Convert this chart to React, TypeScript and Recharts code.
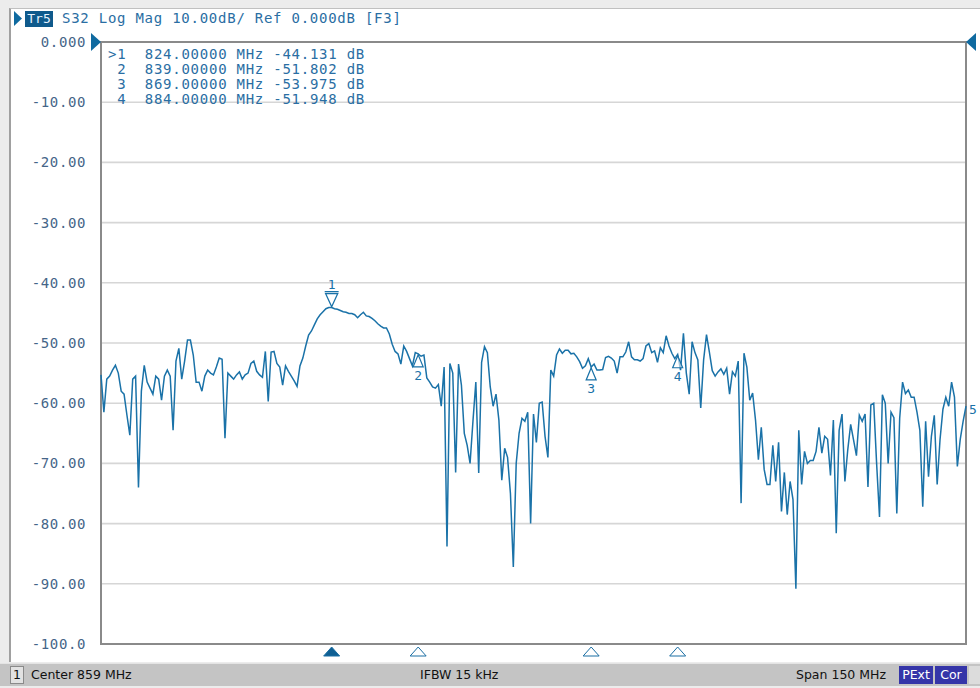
import React from 'react';
import {
  CartesianGrid,
  Line,
  LineChart,
  ReferenceArea,
  ReferenceDot,
  XAxis,
  YAxis,
} from 'recharts';

// sweep: center 859 MHz, span 150 MHz, 301 points
const START_MHZ = 784;
const STOP_MHZ = 934;
const STEP_MHZ = 0.5;

// S32 log mag trace, dB
const s32Db = [
  -55.3, -61.5, -56, -55.5, -54.5, -53.7, -55, -58, -58.5, -62,
  -65.3, -56, -55.5, -74, -58, -53.7, -56.5, -57.5, -58.5, -55.5,
  -56, -59.5, -55.5, -54.5, -55.5, -64.5, -53, -50.9, -56, -53,
  -49.5, -49.5, -52, -56.5, -56.5, -58, -55.5, -54.5, -55, -55.3,
  -54, -52.5, -52.7, -65.8, -55, -55.5, -56, -55.3, -54.8, -56,
  -55.3, -55, -53.4, -53, -54.7, -55.3, -55.7, -51.4, -59.7, -51.5,
  -51.4, -53.4, -54, -57, -53.8, -54.7, -55.5, -56.3, -57.2, -53.8,
  -52.5, -50.5, -48.7, -48, -47, -46, -45.3, -44.8, -44.3, -44.1,
  -44.1, -44.3, -44.4, -44.6, -44.8, -44.9, -45.1, -45.1, -45.3, -45.8,
  -45.3, -44.9, -45.5, -45.6, -45.9, -46.3, -46.8, -47.2, -47.5, -47.5,
  -48.5, -50.2, -51.4, -51.8, -53.5, -50.5, -51.4, -52.6, -53.8, -51.6,
  -51.8, -52.2, -52, -55.8, -56.5, -57.3, -57.5, -56.9, -60.5, -54,
  -83.8, -53.4, -55, -71.5, -53.5, -57, -65, -67, -70, -63,
  -56.5, -71.6, -53.2, -50.6, -51.6, -57.3, -60.5, -58.5, -62.8, -72.8,
  -67.5, -69, -75, -87.2, -70, -65, -62.5, -63, -61.5, -80,
  -61.8, -66.5, -60, -59.8, -65.5, -69, -54.5, -55.5, -52, -51,
  -51.7, -51.2, -51.2, -51.8, -51.7, -52.3, -53.1, -54.2, -53.8, -52.6,
  -54, -53.5, -54.5, -54.5, -54.4, -52.4, -52.2, -52.5, -53, -55,
  -52.3, -52.3, -51.5, -49.8, -52.3, -52.8, -52.8, -53, -52.6, -50.5,
  -50.1, -51.6, -51.3, -53.2, -50.8, -51.6, -48.8, -50.5, -51.7, -52.6,
  -51.9, -54.5, -48.4, -55, -58.5, -49.8, -51.6, -52.8, -60.8, -52.8,
  -48.6, -51.5, -54.6, -55.5, -54.8, -54.3, -55.2, -54.2, -58.5, -54.8,
  -55.5, -53, -76.6, -51.7, -54, -59.5, -58.3, -62.8, -69.4, -64,
  -71, -73.5, -73.5, -67, -73, -66.5, -78, -71.5, -78.5, -73,
  -76, -90.8, -64.5, -73.5, -68, -70, -69.5, -69.5, -68, -64,
  -68.3, -65.5, -66, -72, -62.8, -81.6, -64.5, -61.8, -73, -67.7,
  -63.5, -66.1, -68.7, -62, -63, -61.8, -73.9, -60.3, -60, -70,
  -78.9, -58.6, -60, -70, -61.5, -62.4, -78.3, -62.5, -56.5, -58.4,
  -57.8, -59, -59, -61.5, -64.5, -77.2, -63, -72.2, -65.5, -62,
  -73.5, -66, -61, -59, -60.5, -56.5, -59, -70.5, -66, -63,
  -60.5,
];

const freqTicks = [784, 799, 814, 829, 844, 859, 874, 889, 904, 919, 934];
const dbTicks = [0, -10, -20, -30, -40, -50, -60, -70, -80, -90, -100];
const dbTickLabels = ['0.000', '-10.00', '-20.00', '-30.00', '-40.00', '-50.00', '-60.00', '-70.00', '-80.00', '-90.00', '-100.0'];

const markerNo = [1, 2, 3, 4];
const markerMhz = [824, 839, 869, 884];
const markerDb = [-44.131, -51.802, -53.975, -51.948];

// off-screen marker 5 tag at the right edge
const marker5Db = -61;

const BLUE = '#2a6ea3';
const TRACE = '#1a72a8';
const MONO = '"DejaVu Sans Mono", "Liberation Mono", monospace';

const data = s32Db.map((db, i) => ({ f: START_MHZ + i * STEP_MHZ, db }));

const tableLines = markerNo.map(
  (n, i) => `${i === 0 ? '>' : ' '}${n}  ${markerMhz[i].toFixed(5)} MHz ${markerDb[i].toFixed(3)} dB`
);

function TraceMarker({ cx, cy, n, active }: any) {
  if (cx == null || cy == null) return null;
  if (active) {
    return (
      <g>
        <path d={`M${cx - 6},${cy - 14} L${cx + 6},${cy - 14} L${cx},${cy - 1} Z`} fill="#fff" stroke={TRACE} strokeWidth={1.3} />
        <line x1={cx - 7} x2={cx + 7} y1={cy - 16} y2={cy - 16} stroke={TRACE} strokeWidth={1.3} />
        <text x={cx} y={cy - 19} textAnchor="middle" fontFamily={MONO} fontSize={13} fill={TRACE}>{n}</text>
      </g>
    );
  }
  return (
    <g>
      <path d={`M${cx},${cy + 1} L${cx + 5},${cy + 13} L${cx - 5},${cy + 13} Z`} fill="#fff" fillOpacity={0.6} stroke={TRACE} strokeWidth={1.2} />
      <text x={cx} y={cy + 26} textAnchor="middle" fontFamily={MONO} fontSize={13} fill={TRACE}>{n}</text>
    </g>
  );
}

function AxisMarker({ cx, cy, active }: any) {
  if (cx == null || cy == null) return null;
  return (
    <path
      d={`M${cx},${cy + 3} L${cx + 8},${cy + 12} L${cx - 8},${cy + 12} Z`}
      fill={active ? '#0f5f93' : '#fff'}
      stroke="#1a6ea3"
      strokeWidth={1}
    />
  );
}

function RefArrow({ cx, cy, side }: any) {
  if (cx == null || cy == null) return null;
  const d =
    side === 'left'
      ? `M${cx - 10},${cy - 9} L${cx},${cy} L${cx - 10},${cy + 9} Z`
      : `M${cx + 10},${cy - 9} L${cx},${cy} L${cx + 10},${cy + 9} Z`;
  return <path d={d} fill="#0f6aa0" />;
}

function EdgeTag({ cx, cy }: any) {
  if (cx == null || cy == null) return null;
  return (
    <text x={cx + 3} y={cy + 5} fontFamily={MONO} fontSize={13} fill={TRACE}>5</text>
  );
}

export default function App() {
  return (
    <div
      style={{
        position: 'fixed',
        left: 0,
        top: 0,
        width: 980,
        height: 688,
        background: '#ececec',
        overflow: 'hidden',
      }}
    >
      <div
        style={{
          position: 'absolute',
          left: 9,
          top: 8,
          width: 971,
          height: 654,
          background: '#fff',
          borderLeft: '2px solid #a0a0a0',
          borderTop: '1px solid #c0c0c0',
          boxSizing: 'border-box',
        }}
      />

      <div style={{ position: 'absolute', left: 0, top: 0 }}>
        <LineChart width={980} height={688} data={data} margin={{ top: 42, right: 14, bottom: 44, left: 0 }}>
          <CartesianGrid stroke="#d6d6d6" strokeWidth={1.6} />
          <XAxis
            dataKey="f"
            type="number"
            domain={[START_MHZ, STOP_MHZ]}
            ticks={freqTicks}
            tick={false}
            axisLine={false}
            tickLine={false}
            height={0}
          />
          <YAxis
            type="number"
            domain={[-100, 0]}
            ticks={dbTicks}
            width={101}
            axisLine={false}
            tickLine={false}
            tickSize={0}
            tickMargin={15}
            tickFormatter={(v: number) => dbTickLabels[dbTicks.indexOf(v)] ?? String(v)}
            tick={{ fill: '#456588', fontSize: 14, fontFamily: MONO, letterSpacing: 0.6 }}
            interval={0}
          />
          <ReferenceArea
            x1={START_MHZ}
            x2={STOP_MHZ}
            y1={-100}
            y2={0}
            fill="none"
            stroke="#8a8a8a"
            strokeWidth={2}
            ifOverflow="visible"
          />
          <Line
            type="linear"
            dataKey="db"
            stroke={TRACE}
            strokeWidth={1.5}
            dot={false}
            isAnimationActive={false}
          />
          {markerNo.map((n, i) => (
            <ReferenceDot
              key={`m${n}`}
              x={markerMhz[i]}
              y={markerDb[i]}
              ifOverflow="visible"
              shape={(p: any) => <TraceMarker {...p} n={n} active={i === 0} />}
            />
          ))}
          {markerNo.map((n, i) => (
            <ReferenceDot
              key={`a${n}`}
              x={markerMhz[i]}
              y={-100}
              ifOverflow="visible"
              shape={(p: any) => <AxisMarker {...p} active={i === 0} />}
            />
          ))}
          <ReferenceDot x={START_MHZ} y={0} ifOverflow="visible" shape={(p: any) => <RefArrow {...p} side="left" />} />
          <ReferenceDot x={STOP_MHZ} y={0} ifOverflow="visible" shape={(p: any) => <RefArrow {...p} side="right" />} />
          <ReferenceDot x={STOP_MHZ} y={marker5Db} ifOverflow="visible" shape={(p: any) => <EdgeTag {...p} />} />
        </LineChart>
      </div>

      {/* title line */}
      <svg style={{ position: 'absolute', left: 14, top: 11 }} width={9} height={15}>
        <path d="M0,0 L8,7.5 L0,15 Z" fill="#0f6aa0" />
      </svg>
      <div
        style={{
          position: 'absolute',
          left: 25,
          top: 11,
          width: 28,
          height: 16,
          background: '#0f5a8c',
          color: '#e6f2ff',
          fontFamily: MONO,
          fontSize: 13,
          lineHeight: '16px',
          textAlign: 'center',
        }}
      >
        Tr5
      </div>
      <div
        style={{
          position: 'absolute',
          left: 62,
          top: 10,
          fontFamily: MONO,
          fontSize: 14,
          letterSpacing: 0.75,
          lineHeight: '17px',
          color: BLUE,
          whiteSpace: 'pre',
        }}
      >
        S32 Log Mag 10.00dB/ Ref 0.000dB [F3]
      </div>

      {/* marker table */}
      <div
        style={{
          position: 'absolute',
          left: 108,
          top: 47,
          fontFamily: MONO,
          fontSize: 14,
          letterSpacing: 0.75,
          lineHeight: '15px',
          color: BLUE,
          whiteSpace: 'pre',
        }}
      >
        {tableLines.map((t) => (
          <div key={t}>{t}</div>
        ))}
      </div>

      {/* status bar */}
      <div
        style={{
          position: 'absolute',
          left: 0,
          top: 663,
          width: 980,
          height: 23,
          background: '#c4c4c4',
          borderTop: '1px solid #e4e4e4',
          fontFamily: '"DejaVu Sans", sans-serif',
          fontSize: 12.5,
          color: '#111',
          boxSizing: 'border-box',
        }}
      >
        <div
          style={{
            position: 'absolute',
            left: 10,
            top: 2,
            width: 14,
            height: 18,
            background: '#e2e2e2',
            border: '1px solid #8a8a8a',
            boxSizing: 'border-box',
            textAlign: 'center',
            lineHeight: '16px',
          }}
        >
          1
        </div>
        <div style={{ position: 'absolute', left: 31, top: 3, lineHeight: '16px' }}>Center 859 MHz</div>
        <div style={{ position: 'absolute', left: 420, top: 3, lineHeight: '16px' }}>IFBW 15 kHz</div>
        <div style={{ position: 'absolute', left: 796, top: 3, lineHeight: '16px' }}>Span 150 MHz</div>
        <div
          style={{
            position: 'absolute',
            left: 899,
            top: 2,
            width: 34,
            height: 18,
            background: '#3535a8',
            color: '#fff',
            textAlign: 'center',
            lineHeight: '18px',
          }}
        >
          PExt
        </div>
        <div
          style={{
            position: 'absolute',
            left: 935,
            top: 2,
            width: 32,
            height: 18,
            background: '#3535a8',
            color: '#fff',
            textAlign: 'center',
            lineHeight: '18px',
          }}
        >
          Cor
        </div>
        <div
          style={{
            position: 'absolute',
            left: 969,
            top: 2,
            width: 11,
            height: 18,
            background: '#dcdcdc',
          }}
        />
      </div>
    </div>
  );
}
